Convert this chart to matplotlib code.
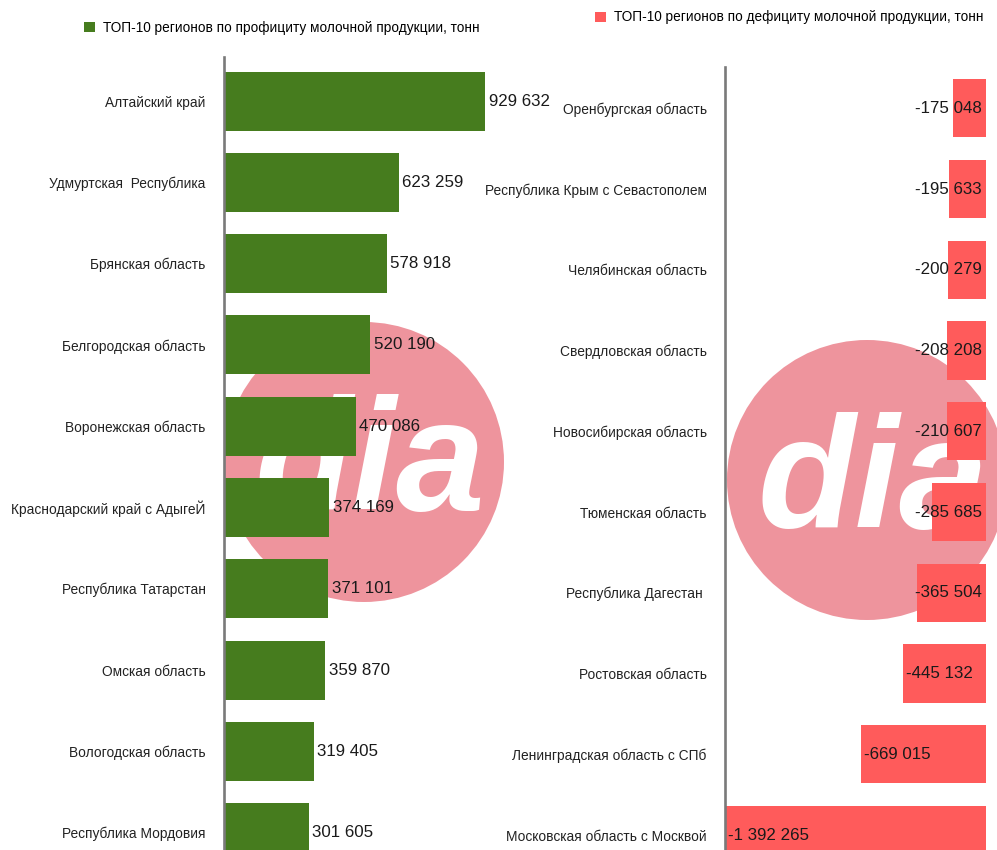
import matplotlib
matplotlib.use("Agg")
import matplotlib.pyplot as plt
from matplotlib.patches import Circle

plt.rcParams['font.family'] = ['Liberation Sans', 'DejaVu Sans']

# surplus (left panel)
surplus_regions = ['Алтайский край', 'Удмуртская  Республика', 'Брянская область',
                   'Белгородская область', 'Воронежская область',
                   'Краснодарский край с АдыгеЙ', 'Республика Татарстан',
                   'Омская область', 'Вологодская область', 'Республика Мордовия']
surplus = [929632, 623259, 578918, 520190, 470086, 374169, 371101, 359870, 319405, 301605]

# deficit (right panel)
deficit_regions = ['Оренбургская область', 'Республика Крым с Севастополем',
                   'Челябинская область', 'Свердловская область', 'Новосибирская область',
                   'Тюменская область', 'Республика Дагестан ', 'Ростовская область',
                   'Ленинградская область с СПб', 'Московская область с Москвой']
deficit = [-175048, -195633, -200279, -208208, -210607, -285685, -365504, -445132,
           -669015, -1392265]

surplus_title = 'ТОП-10 регионов по профициту молочной продукции, тонн'
deficit_title = 'ТОП-10 регионов по дефициту молочной продукции, тонн'

GREEN = '#467c1e'
RED = '#ff5b5b'
PINK = '#ee949d'
W, H = 997, 850


def fmt(v):
    return f"{v:,}".replace(',', ' ')


def watermark(ax, fig, cx, cy, r):
    # pink circle with white "dia", in pixel coords from top-left
    ax.add_patch(Circle((cx / 100, (H - cy) / 100), r / 100, transform=fig.dpi_scale_trans,
                        facecolor=PINK, edgecolor='none', zorder=0.5, clip_on=False))
    ax.text((cx + 6) / 100, (H - cy - 48) / 100, 'dia', transform=fig.dpi_scale_trans,
            fontsize=115, fontweight='bold', fontstyle='italic', color='white',
            ha='center', va='baseline', zorder=0.6, clip_on=False)


def style_axis(ax):
    for s in ['top', 'right', 'bottom']:
        ax.spines[s].set_visible(False)
    ax.spines['left'].set_color('#7a7a7a')
    ax.spines['left'].set_linewidth(1.9)
    ax.set_facecolor('none')
    ax.set_xticks([])
    ax.tick_params(axis='y', length=0, pad=13.2, labelsize=9.9, labelcolor='#222222')


fig = plt.figure(figsize=(W / 100, H / 100), dpi=100)
fig.patch.set_facecolor('white')

# left panel
ax1 = fig.add_axes([224 / W, (H - 873.2) / H, 280.8 / W, 815.9 / H])
watermark(ax1, fig, 364, 462, 140)
ypos = list(range(len(surplus)))
ax1.barh(ypos, surplus, height=0.726, color=GREEN, zorder=2, label=surplus_title)
ax1.set_xlim(0, 1000000)
ax1.set_ylim(9.5, -0.54)
ax1.set_yticks(ypos, surplus_regions)
style_axis(ax1)
for y, v in zip(ypos, surplus):
    ax1.annotate(fmt(v), (v, y), xytext=(2.5, 0), textcoords='offset points',
                 ha='left', va='center', fontsize=12.2, color='#1a1a1a', zorder=4)
ax1.legend(loc='center left', bbox_to_anchor=(84 / W, 1 - 28 / H),
           bbox_transform=fig.transFigure, frameon=False, fontsize=9.85,
           handlelength=0.8, handleheight=0.8, handletextpad=0.6,
           borderpad=0, borderaxespad=0)

# right panel
ax2 = fig.add_axes([725 / W, (H - 875.4) / H, 261 / W, 808.7 / H])
watermark(ax2, fig, 867, 480, 140)
ax2.barh(ypos, deficit, height=0.72, color=RED, zorder=2, label=deficit_title)
ax2.set_xlim(min(deficit), 0)
ax2.set_ylim(9.5, -0.515)
ax2.set_yticks(ypos, deficit_regions)
style_axis(ax2)
for y, v in zip(ypos, deficit):
    if abs(v) < 400000:
        ax2.annotate(fmt(v), (0, y), xytext=(-3, 0), textcoords='offset points',
                     ha='right', va='center', fontsize=12.2, color='#1a1a1a', zorder=4)
    else:
        ax2.annotate(fmt(v), (v, y), xytext=(2.2, 0), textcoords='offset points',
                     ha='left', va='center', fontsize=12.2, color='#1a1a1a', zorder=4)
ax2.legend(loc='center left', bbox_to_anchor=(595 / W, 1 - 17.5 / H),
           bbox_transform=fig.transFigure, frameon=False, fontsize=9.85,
           handlelength=0.8, handleheight=0.8, handletextpad=0.6,
           borderpad=0, borderaxespad=0)

fig.savefig('out.png', dpi=100)
